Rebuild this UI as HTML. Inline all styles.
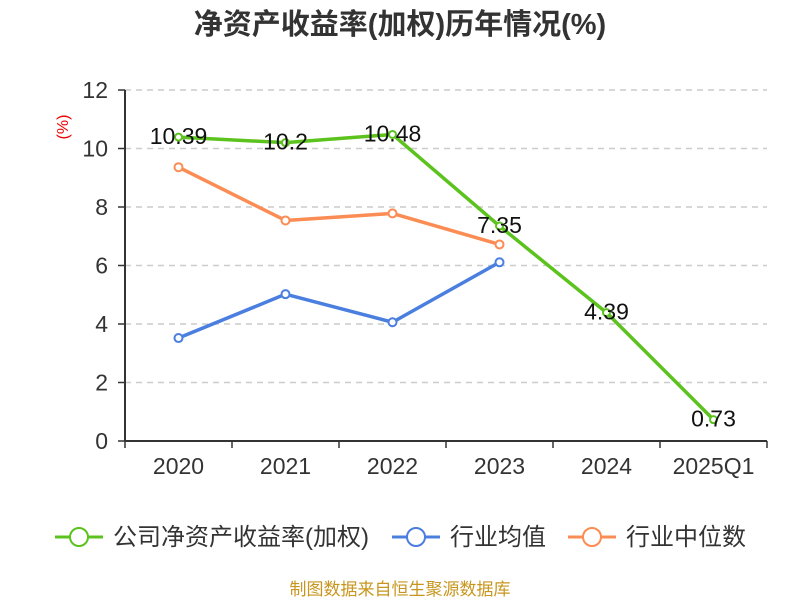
<!DOCTYPE html>
<html><head><meta charset="utf-8"><style>
body{margin:0;background:#fff;width:800px;height:600px;overflow:hidden;font-family:"Liberation Sans","Noto Sans CJK SC",sans-serif}
</style></head><body>
<svg id="c" width="800" height="600" xmlns="http://www.w3.org/2000/svg" font-family="Liberation Sans, Noto Sans CJK SC, sans-serif">
<text x="400" y="34" text-anchor="middle" font-size="29" font-weight="bold" fill="#333">净资产收益率(加权)历年情况(%)</text>
<text transform="translate(68,127) rotate(-90)" text-anchor="middle" font-size="16" fill="#e00">(%)</text>
<g id="grid"></g><g id="axes"></g><g id="series"></g>
<g>
<g><line x1="55" y1="537" x2="103" y2="537" stroke="#5cc21d" stroke-width="3"/><circle cx="79" cy="537" r="9" fill="#fff" stroke="#5cc21d" stroke-width="2"/><text x="113" y="545" font-size="24" fill="#333">公司净资产收益率(加权)</text></g>
<g><line x1="392" y1="537" x2="440" y2="537" stroke="#4a7fe0" stroke-width="3"/><circle cx="416" cy="537" r="9" fill="#fff" stroke="#4a7fe0" stroke-width="2"/><text x="450" y="545" font-size="24" fill="#333">行业均值</text></g>
<g><line x1="568" y1="537" x2="616" y2="537" stroke="#fb8c53" stroke-width="3"/><circle cx="592" cy="537" r="9" fill="#fff" stroke="#fb8c53" stroke-width="2"/><text x="626" y="545" font-size="24" fill="#333">行业中位数</text></g>
</g>
<text x="400" y="595" text-anchor="middle" font-size="17" fill="#c8961e">制图数据来自恒生聚源数据库</text>
</svg>
<script>
const categories=["2020","2021","2022","2023","2024","2025Q1"];
const roe=[10.39,10.2,10.48,7.35,4.39,0.73];
const roeLabels=["10.39","10.2","10.48","7.35","4.39","0.73"];
const industryAvg=[3.52,5.02,4.06,6.11];
const industryMedian=[9.36,7.54,7.78,6.72];
const yTicks=[0,2,4,6,8,10,12];
const NS="http://www.w3.org/2000/svg";
const X0=125,X1=767,Y0=441,Y1=90,YMAX=12;
const bw=(X1-X0)/categories.length;
const xs=i=>X0+bw*(i+0.5);
const ys=v=>Y0-(v/YMAX)*(Y0-Y1);
function mk(tag,attrs,parent){const e=document.createElementNS(NS,tag);for(const k in attrs)e.setAttribute(k,attrs[k]);parent.appendChild(e);return e;}
const grid=document.getElementById('grid'),axes=document.getElementById('axes'),ser=document.getElementById('series');
yTicks.forEach(t=>{
 if(t>0){const g=mk('line',{x1:X0,x2:X1,y1:ys(t),y2:ys(t),stroke:'#ccc','stroke-dasharray':'6,5','stroke-width':1.5},grid);
 
 }
 const tk=mk('line',{x1:X0-7,x2:X0,y1:ys(t),y2:ys(t),stroke:'#333','stroke-width':1.5},axes);
 
 
 const lb=mk('text',{x:X0-17,y:ys(t)+8,'text-anchor':'end','font-size':23,fill:'#333'},axes);lb.textContent=t;
 
 
});
const ya=mk('line',{x1:X0,x2:X0,y1:Y1,y2:Y0,stroke:'#333','stroke-width':2},axes);


const xa=mk('line',{x1:X0,x2:X1,y1:Y0,y2:Y0,stroke:'#333','stroke-width':2},axes);


for(let i=0;i<=categories.length;i++){const t=mk('line',{x1:X0+bw*i,x2:X0+bw*i,y1:Y0,y2:Y0+7,stroke:'#333','stroke-width':1.5},axes);
 
 }
categories.forEach((c,i)=>{const l=mk('text',{x:xs(i),y:Y0+33,'text-anchor':'middle','font-size':23,fill:'#333'},axes);l.textContent=c;
 
 });
function series(vals,color,name,r){
 const g=mk('g',{},ser);
 
 
 const p=mk('polyline',{points:vals.map((v,i)=>xs(i)+','+ys(v)).join(' '),fill:'none',stroke:color,'stroke-width':3.5,'stroke-linejoin':'round'},g);
 
 
 vals.forEach((v,i)=>{const c=mk('circle',{cx:xs(i),cy:ys(v),r:r,fill:'#fff',stroke:color,'stroke-width':2},g);
  
  });
 return g;
}
series(industryMedian,'#fb8c53','industry-median-series',4);
series(industryAvg,'#4a7fe0','industry-avg-series',4);
const rg=series(roe,'#5cc21d','roe-series',3.5);
roe.forEach((v,i)=>{const t=mk('text',{x:xs(i),y:ys(v)+7,'text-anchor':'middle','font-size':23,fill:'#111'},rg);t.textContent=roeLabels[i];
 
 });
</script>
</body></html>
